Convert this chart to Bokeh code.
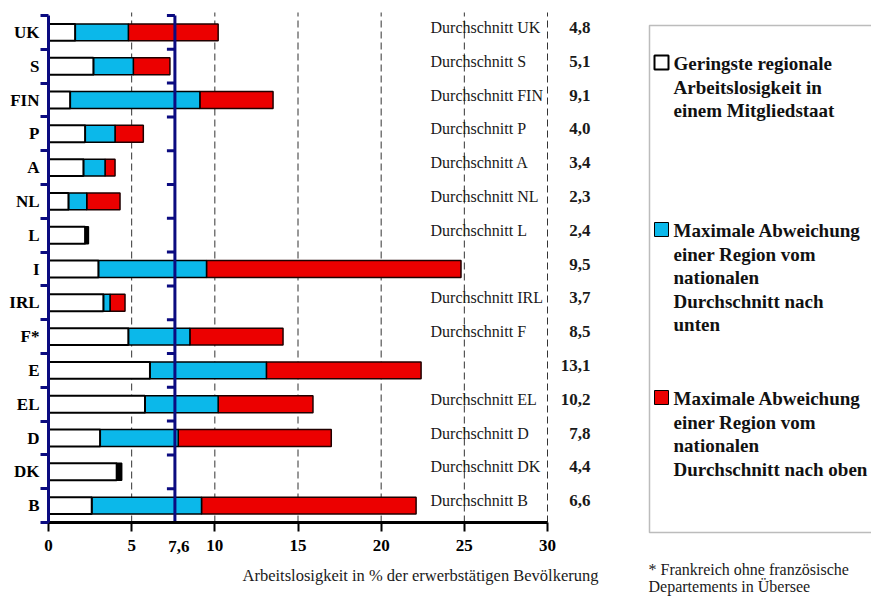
import numpy as np
from bokeh.plotting import figure
from bokeh.models import FixedTicker, Label, BoxAnnotation, ColumnDataSource, Range1d
from bokeh.core.properties import value
from bokeh.embed import file_html
from bokeh.resources import INLINE

# ---------------- data ----------------
countries = ["UK", "S", "FIN", "P", "A", "NL", "L", "I", "IRL", "F*", "E", "EL", "D", "DK", "B"]
lowest = [1.6, 2.7, 1.3, 2.2, 2.1, 1.2, 2.2, 3.0, 3.3, 4.8, 6.1, 5.8, 3.1, 4.1, 2.6]
blue_end = [4.8, 5.1, 9.1, 4.0, 3.4, 2.3, 2.4, 9.5, 3.7, 8.5, 13.1, 10.2, 7.8, 4.4, 9.2]
highest = [10.2, 7.3, 13.5, 5.7, 4.0, 4.3, 2.4, 24.8, 4.6, 14.1, 22.4, 15.9, 17.0, 4.4, 22.1]
national_avg = [4.8, 5.1, 9.1, 4.0, 3.4, 2.3, 2.4, 9.5, 3.7, 8.5, 13.1, 10.2, 7.8, 4.4, 6.6]
avg_captions = ["Durchschnitt UK", "Durchschnitt S", "Durchschnitt FIN", "Durchschnitt P",
                "Durchschnitt A", "Durchschnitt NL", "Durchschnitt L", "", "Durchschnitt IRL",
                "Durchschnitt F", "", "Durchschnitt EL", "Durchschnitt D", "Durchschnitt DK",
                "Durchschnitt B"]
eu_average = 7.6
eu_average_label = "7,6"
x_ticks = [0, 5, 10, 15, 20, 25, 30]
grid_ticks = [5, 10, 15, 20, 25, 30]
x_title = "Arbeitslosigkeit in % der erwerbstätigen Bevölkerung"
legend_groups = [
    ["Geringste regionale", "Arbeitslosigkeit in", "einem Mitgliedstaat"],
    ["Maximale Abweichung", "einer Region vom", "nationalen", "Durchschnitt nach", "unten"],
    ["Maximale Abweichung", "einer Region vom", "nationalen", "Durchschnitt nach oben"],
]
footnote = ["* Frankreich ohne französische", "Departements in Übersee"]

# ---------------- styles / layout ----------------
W, H = 871, 598
X0_PX = 48          # pixel of x = 0
PX_UNIT = 499 / 30  # pixels per percentage point
AXIS_PX = 522       # pixel of the x axis (bottom of category band)
ROW_PX = 33.8
NAVY = "#0B0B80"
CYAN = "#0BB8EA"
RED = "#EC0000"
SERIF = "Liberation Serif"


def dx(px):
    return (px - X0_PX) / PX_UNIT


def dy(py):
    return -0.5 + (AXIS_PX - py) / ROW_PX


n = len(countries)
ypos = [n - 1 - i for i in range(n)]
boundaries = [i - 0.5 for i in range(n + 1)]

p = figure(width=W, height=H, output_backend="svg", toolbar_location=None,
           x_range=Range1d(dx(0), dx(W)), y_range=Range1d(dy(H), dy(0)),
           min_border=0, min_border_left=0, min_border_right=0, min_border_top=0,
           min_border_bottom=0)
p.outline_line_color = None
p.background_fill_color = "white"
p.border_fill_color = "white"
p.xgrid.visible = False
p.ygrid.visible = False

# dashed vertical reference lines
p.segment(x0=grid_ticks, y0=[-0.5] * len(grid_ticks), x1=grid_ticks, y1=[dy(12)] * len(grid_ticks),
          line_color="#333333", line_dash="7 4", line_width=1)

# x axis
xa = p.xaxis[0]
xa.fixed_location = -0.5
xa.ticker = FixedTicker(ticks=x_ticks)
xa.bounds = (0, 30)
xa.axis_line_width = 3
xa.axis_line_color = "black"
xa.major_tick_out = 9
xa.major_tick_in = 0
xa.major_tick_line_width = 2
xa.minor_tick_line_color = None
xa.major_label_standoff = 8
xa.major_label_text_font = SERIF
xa.major_label_text_font_style = "bold"
xa.major_label_text_font_size = "17px"
xa.major_label_text_color = "black"

# y axis
ya = p.yaxis[0]
ya.fixed_location = 0
ya.ticker = FixedTicker(ticks=ypos, minor_ticks=boundaries)
ya.major_label_overrides = {y: c for y, c in zip(ypos, countries)}
ya.bounds = (-0.5, n - 0.5)
ya.axis_line_color = NAVY
ya.axis_line_width = 3
ya.major_tick_line_color = None
ya.major_tick_out = 0
ya.major_tick_in = 0
ya.minor_tick_line_color = NAVY
ya.minor_tick_line_width = 3
ya.minor_tick_out = 8
ya.minor_tick_in = 0
ya.major_label_standoff = 1
ya.major_label_text_font = SERIF
ya.major_label_text_font_style = "bold"
ya.major_label_text_font_size = "17px"
ya.major_label_text_color = "black"

# bars
mid_colors = ["black" if h <= b else CYAN for h, b in zip(highest, blue_end)]
src = ColumnDataSource(dict(y=ypos, low=lowest, mid=blue_end, high=highest, mc=mid_colors))
red_idx = [i for i in range(n) if highest[i] > blue_end[i]]
red_src = ColumnDataSource(dict(y=[ypos[i] for i in red_idx], mid=[blue_end[i] for i in red_idx],
                                high=[highest[i] for i in red_idx]))

p.hbar(y="y", left="mid", right="high", height=0.5, source=red_src,
       fill_color=RED, line_color="#200000", line_width=1.5)
p.hbar(y="y", left="low", right="mid", height=0.5, source=src,
       fill_color="mc", line_color="black", line_width=1.5)
p.hbar(y="y", left=0, right="low", height=0.5, source=src,
       fill_color="white", line_color="black", line_width=2)

# EU average line
p.segment(x0=eu_average, y0=-0.5, x1=eu_average, y1=n - 0.5, line_color=NAVY, line_width=3)
p.ray(x=eu_average, y=boundaries, length=8, angle=np.pi, length_units="screen",
      line_color=NAVY, line_width=3)

# averages text
p.text(x=dx(430), y=ypos, text=avg_captions, y_offset=-5,
       text_font=value(SERIF), text_font_size="16px", text_baseline="middle",
       text_align="left", text_color="#1a1a1a")
p.text(x=dx(590), y=ypos, text=[f"{v:.1f}".replace(".", ",") for v in national_avg], y_offset=-5,
       text_font=value(SERIF), text_font_size="17px", text_font_style="bold",
       text_baseline="middle", text_align="right", text_color="#1a1a1a")

# x annotations
p.add_layout(Label(x=eu_average, y=dy(546), text=eu_average_label, x_offset=4,
                   text_font=SERIF, text_font_size="17px", text_font_style="bold",
                   text_align="center", text_baseline="middle", text_color="black"))
p.add_layout(Label(x=dx(420), y=dy(575), text=x_title,
                   text_font=SERIF, text_font_size="16.5px",
                   text_align="center", text_baseline="middle", text_color="#1a1a1a"))

# legend box
p.add_layout(BoxAnnotation(left=dx(649), right=dx(890), top=dy(25), bottom=dy(532),
                           fill_color=None, line_color="#222222", line_width=1.5))
group_starts = [63, 230, 398]
sw_colors = ["white", CYAN, RED]
sw_lw = [2, 1, 1]
p.scatter(x=[dx(661)] * 3, y=[dy(s - 1) for s in group_starts], marker="square", size=14,
          fill_color=sw_colors, line_color="black", line_width=sw_lw)
lx, ly, lt = [], [], []
for g, lines in enumerate(legend_groups):
    for k, line in enumerate(lines):
        lx.append(dx(673))
        ly.append(dy(group_starts[g] + k * 23.5))
        lt.append(line)
p.text(x=lx, y=ly, text=lt, text_font=value(SERIF), text_font_size="19px",
       text_font_style="bold", text_baseline="middle", text_align="left", text_color="#111111")

for k, line in enumerate(footnote):
    p.add_layout(Label(x=dx(648), y=dy(569 + k * 17), text=line,
                       text_font=SERIF, text_font_size="16px",
                       text_align="left", text_baseline="middle", text_color="#1a1a1a"))

open("out.html", "w").write(file_html(p, INLINE))
